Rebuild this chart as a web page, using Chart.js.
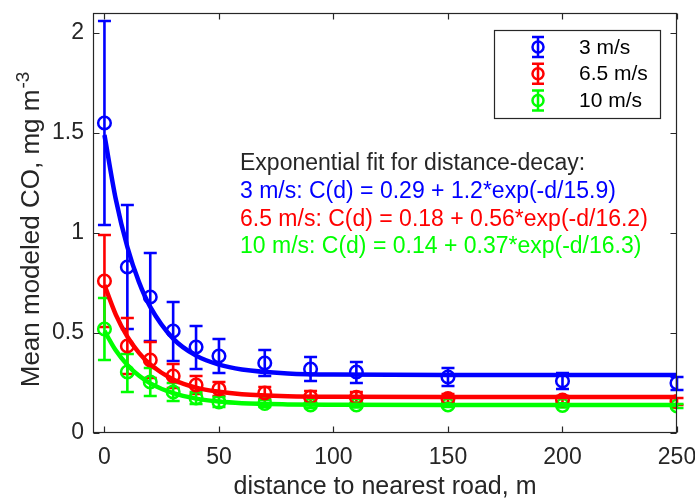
<!DOCTYPE html>
<html>
<head>
<meta charset="utf-8">
<script src="https://cdn.jsdelivr.net/npm/chart.js@4.4.0/dist/chart.umd.min.js"></script>
<style>
  html, body { margin: 0; padding: 0; background: #fff; }
</style>
</head>
<body>
<canvas id="coChart" width="695" height="502"></canvas>
<script>
let ctx = document.getElementById('coChart').getContext('2d');

// distances of the modeled points, m
let distances = [0, 10, 20, 30, 40, 50, 70, 90, 110, 150, 200, 250];
let speedLabels = ["3 m/s", "6.5 m/s", "10 m/s"];
let speedColors = ['#0000ff', '#ff0000', '#00ff00'];

// mean CO and error bar ends, mg m-3
let mean3 = [1.55, 0.83, 0.68, 0.51, 0.43, 0.385, 0.35, 0.32, 0.305, 0.28, 0.26, 0.25];
let upper3 = [2.06, 1.14, 0.90, 0.655, 0.535, 0.47, 0.415, 0.38, 0.355, 0.325, 0.30, 0.28];
let lower3 = [1.04, 0.52, 0.46, 0.36, 0.32, 0.30, 0.285, 0.26, 0.25, 0.235, 0.22, 0.215];

let mean65 = [0.76, 0.435, 0.365, 0.285, 0.24, 0.22, 0.20, 0.18, 0.178, 0.172, 0.165, 0.157];
let upper65 = [0.99, 0.575, 0.455, 0.345, 0.285, 0.255, 0.23, 0.21, 0.205, 0.195, 0.185, 0.175];
let lower65 = [0.53, 0.295, 0.275, 0.225, 0.195, 0.185, 0.17, 0.15, 0.15, 0.15, 0.145, 0.14];

let mean10 = [0.52, 0.305, 0.255, 0.205, 0.175, 0.155, 0.148, 0.14, 0.14, 0.14, 0.138, 0.135];
let upper10 = [0.675, 0.395, 0.325, 0.25, 0.205, 0.18, 0.165, 0.155, 0.152, 0.15, 0.148, 0.145];
let lower10 = [0.365, 0.205, 0.185, 0.16, 0.145, 0.13, 0.13, 0.125, 0.128, 0.13, 0.128, 0.125];

// fitted distance-decay curves
let fitDist = [0, 5, 10, 15, 20, 30, 40, 50, 60, 80, 100, 150, 200, 250];
let fit3 = [1.49, 1.166, 0.93, 0.757, 0.631, 0.472, 0.387, 0.342, 0.318, 0.298, 0.292, 0.29, 0.29, 0.29];
let fit65 = [0.74, 0.591, 0.482, 0.402, 0.343, 0.268, 0.227, 0.206, 0.194, 0.184, 0.181, 0.18, 0.18, 0.18];
let fit10 = [0.51, 0.412, 0.34, 0.287, 0.248, 0.199, 0.172, 0.157, 0.149, 0.143, 0.141, 0.14, 0.14, 0.14];

let fitTitle = "Exponential fit for distance-decay:";
let fitLabels = [
    "3 m/s: C(d) = 0.29 + 1.2*exp(-d/15.9)",
    "6.5 m/s: C(d) = 0.18 + 0.56*exp(-d/16.2)",
    "10 m/s: C(d) = 0.14 + 0.37*exp(-d/16.3)"
];

let xTicks = [0, 50, 100, 150, 200, 250];
let yTicks = [0, 0.5, 1, 1.5, 2];
let yTickLabels = ["0", "0.5", "1", "1.5", "2"];
let xTitle = "distance to nearest road, m";
let yTitle = "Mean modeled CO, mg m";
let yTitleSup = "-3";

const FONT = "'Liberation Sans', Arial, Helvetica, sans-serif";
const INK = '#262626';

let means = [mean3, mean65, mean10];
let uppers = [upper3, upper65, upper10];
let lowers = [lower3, lower65, lower10];
let fits = [fit3, fit65, fit10];

let datasets = [];
for (let i = 0; i < speedLabels.length; i++) {
    datasets.push({
        label: speedLabels[i],
        data: distances.map((d, j) => ({x: d, y: means[i][j]})),
        upper: uppers[i],
        lower: lowers[i],
        showLine: false,
        borderColor: speedColors[i],
        backgroundColor: 'rgba(0,0,0,0)',
        pointRadius: 6.3,
        pointHoverRadius: 6.3,
        pointBorderWidth: 2.5,
        order: 1
    });
}
for (let i = 0; i < speedLabels.length; i++) {
    datasets.push({
        label: 'fit ' + speedLabels[i],
        data: fitDist.map((d, j) => ({x: d, y: fits[i][j]})),
        showLine: true,
        borderColor: speedColors[i],
        borderWidth: 4.5,
        pointRadius: 0,
        cubicInterpolationMode: 'monotone',
        fill: false,
        order: 0
    });
}

const whiteBg = {
    id: 'whiteBg',
    beforeDraw(chart) {
        const c = chart.ctx;
        c.save();
        c.fillStyle = '#fff';
        c.fillRect(0, 0, chart.width, chart.height);
        c.restore();
    }
};

// vertical error bars with caps, under the markers
const errorBars = {
    id: 'errorBars',
    beforeDatasetsDraw(chart) {
        const c = chart.ctx;
        const xs = chart.scales.x, ys = chart.scales.y;
        c.save();
        c.lineWidth = 2.6;
        for (let ds of chart.data.datasets) {
            if (!ds.upper) continue;
            c.strokeStyle = ds.borderColor;
            ds.data.forEach((p, j) => {
                const px = xs.getPixelForValue(p.x);
                const top = ys.getPixelForValue(ds.upper[j]);
                const bot = ys.getPixelForValue(ds.lower[j]);
                c.beginPath();
                c.moveTo(px, top); c.lineTo(px, bot);
                c.moveTo(px - 6.5, top); c.lineTo(px + 6.5, top);
                c.moveTo(px - 6.5, bot); c.lineTo(px + 6.5, bot);
                c.stroke();
            });
        }
        c.restore();
    }
};

// box round the plot with inward ticks on all four sides
const frame = {
    id: 'frame',
    afterDatasetsDraw(chart) {
        const c = chart.ctx;
        const a = chart.chartArea;
        const xs = chart.scales.x, ys = chart.scales.y;
        const l = Math.round(a.left) + 0.5, r = Math.round(a.right) - 0.5;
        const t = Math.round(a.top) + 0.5, b = Math.round(a.bottom) - 0.5;
        c.save();
        c.strokeStyle = INK;
        c.lineWidth = 1.2;
        c.strokeRect(l, t, r - l, b - t);
        c.beginPath();
        for (let v of xTicks) {
            const px = Math.round(xs.getPixelForValue(v)) + 0.5;
            c.moveTo(px, b); c.lineTo(px, b - 6);
            c.moveTo(px, t); c.lineTo(px, t + 6);
        }
        for (let v of yTicks) {
            const py = Math.round(ys.getPixelForValue(v)) + 0.5;
            c.moveTo(l, py); c.lineTo(l + 6, py);
            c.moveTo(r, py); c.lineTo(r - 6, py);
        }
        c.stroke();
        c.restore();
    }
};

// fit equations, legend box and y title with superscript
const notes = {
    id: 'notes',
    afterDraw(chart) {
        const c = chart.ctx;
        c.save();

        c.font = '23px ' + FONT;
        c.textAlign = 'left';
        c.textBaseline = 'alphabetic';
        c.fillStyle = INK;
        c.fillText(fitTitle, 240, 170);
        fitLabels.forEach((txt, i) => {
            c.fillStyle = speedColors[i];
            c.fillText(txt, 240, 198 + i * 27.5);
        });

        // legend
        c.fillStyle = '#fff';
        c.fillRect(494.5, 30.5, 166, 88);
        c.strokeStyle = INK;
        c.lineWidth = 1.2;
        c.strokeRect(494.5, 30.5, 166, 88);
        c.font = '21px ' + FONT;
        c.textBaseline = 'middle';
        speedLabels.forEach((txt, i) => {
            const cy = 47 + i * 26.7, cx = 538;
            c.strokeStyle = speedColors[i];
            c.lineWidth = 2.5;
            c.beginPath();
            c.moveTo(cx, cy - 10); c.lineTo(cx, cy + 10);
            c.moveTo(cx - 6, cy - 10); c.lineTo(cx + 6, cy - 10);
            c.moveTo(cx - 6, cy + 10); c.lineTo(cx + 6, cy + 10);
            c.stroke();
            c.beginPath();
            c.arc(cx, cy, 5.5, 0, Math.PI * 2);
            c.stroke();
            c.fillStyle = '#000';
            c.fillText(txt, 579, cy + 1);
        });

        // y title
        c.translate(38.5, 230);
        c.rotate(-Math.PI / 2);
        c.textBaseline = 'alphabetic';
        c.fillStyle = INK;
        c.font = '26px ' + FONT;
        const w1 = c.measureText(yTitle).width;
        c.font = '19px ' + FONT;
        const w2 = c.measureText(yTitleSup).width;
        const start = -(w1 + w2) / 2;
        c.font = '26px ' + FONT;
        c.fillText(yTitle, start, 0);
        c.font = '19px ' + FONT;
        c.fillText(yTitleSup, start + w1 + 1, -10);
        c.restore();
    }
};

let chart = new Chart(ctx, {
    type: 'scatter',
    data: {datasets: datasets},
    options: {
        responsive: false,
        animation: false,
        layout: {autoPadding: false, padding: {top: 13, right: 18, left: 0, bottom: 0}},
        plugins: {
            legend: {display: false},
            tooltip: {enabled: false}
        },
        scales: {
            x: {
                type: 'linear',
                min: -5,
                max: 250,
                afterBuildTicks: (axis) => { axis.ticks = xTicks.map(v => ({value: v})); },
                afterFit: (axis) => {
                    axis.height = 69;
                    axis.paddingLeft = 0;
                    axis.paddingRight = 0;
                },
                grid: {display: false, drawTicks: false},
                border: {display: false},
                ticks: {
                    padding: 11,
                    color: INK,
                    autoSkip: false,
                    maxRotation: 0,
                    font: {family: FONT, size: 23},
                    callback: (v) => String(v)
                },
                title: {
                    display: true,
                    text: xTitle,
                    color: INK,
                    font: {family: FONT, size: 25},
                    padding: {top: 0, bottom: 0}
                }
            },
            y: {
                type: 'linear',
                min: 0,
                max: 2.1,
                afterBuildTicks: (axis) => { axis.ticks = yTicks.map(v => ({value: v})); },
                afterFit: (axis) => {
                    axis.width = 93;
                    axis.paddingTop = 0;
                    axis.paddingBottom = 0;
                },
                grid: {display: false, drawTicks: false},
                border: {display: false},
                ticks: {
                    padding: 9,
                    color: INK,
                    autoSkip: false,
                    font: {family: FONT, size: 23},
                    callback: (v, idx) => yTickLabels[idx]
                }
            }
        }
    },
    plugins: [whiteBg, errorBars, frame, notes]
});
</script>
</body>
</html>
